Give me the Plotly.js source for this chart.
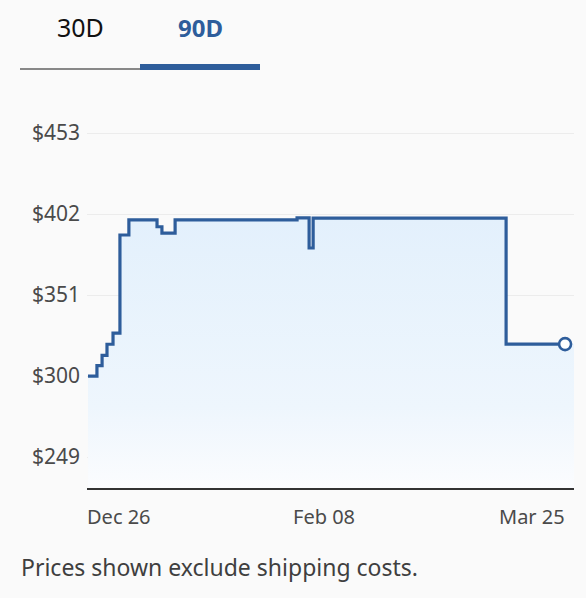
<!DOCTYPE html>
<html>
<head>
<meta charset="utf-8">
<script src="https://cdn.plot.ly/plotly-3.0.1.min.js"></script>
<style>
  html, body { margin: 0; padding: 0; background: #fafafa; }
  #chart { width: 586px; height: 598px; }
</style>
</head>
<body>
<div id="chart"></div>
<script>
// ---- data ----
const dates = [
  '2024-12-26 00:00', '2024-12-27 16:00', '2024-12-28 15:00', '2024-12-29 13:00',
  '2024-12-30 16:00', '2024-12-31 23:00', '2025-01-02 15:00', '2025-01-07 21:00',
  '2025-01-08 19:00', '2025-01-11 06:00', '2025-02-03 00:00', '2025-02-05 06:00',
  '2025-02-06 00:00', '2025-03-14 00:00', '2025-03-25 00:00'
];
const prices = [
  300, 306.5, 313, 320, 327, 388.8, 398.3, 394, 390, 398.3, 399.6, 380.6,
  399.4, 320.1, 320.1
];
const yTickVals = [249, 300, 351, 402, 453];
const yTickText = ['$249', '$300', '$351', '$402', '$453'];
const xTickVals = ['2024-12-26', '2025-02-08', '2025-03-25'];
const xTickText = ['Dec 26', 'Feb 08', 'Mar 25'];
const xTickAnchor = ['left', 'center', 'right'];
const tabLabels = ['30D', '90D'];
const footerText = 'Prices shown exclude shipping costs.';

// ---- layout helpers ----
const W = 586, H = 598;
const L = 87, R = 12, T = 110, B = 110;
const pw = W - L - R, ph = H - T - B;
const px = x => (x - L) / pw;        // pixel -> paper x
const py = y => (H - B - y) / ph;    // pixel -> paper y

const xRange = ['2024-12-25 19:30', '2025-03-26 16:00'];
const yRange = [229.5, 467.5];

const lineColor = '#2e5d9b';
const font = 'Noto Sans, sans-serif';

const fillX = dates.concat([xRange[1]]);
const fillY = prices.concat([prices[prices.length - 1]]);

const traces = [
  {
    type: 'scatter', mode: 'none', x: fillX, y: fillY,
    line: { shape: 'hv' }, fill: 'tozeroy',
    fillgradient: {
      type: 'vertical', start: 229.5, stop: 399,
      colorscale: [[0, '#fbfcfe'], [0.3, '#eef6fd'], [1, '#e3f0fc']]
    },
    hoverinfo: 'skip', showlegend: false
  },
  {
    type: 'scatter', mode: 'lines', x: dates, y: prices,
    line: { shape: 'hv', color: lineColor, width: 3.2 },
    showlegend: false
  },
  {
    type: 'scatter', mode: 'markers',
    x: [dates[dates.length - 1]], y: [prices[prices.length - 1]],
    marker: { size: 12, color: '#ffffff', line: { color: lineColor, width: 2.6 } },
    showlegend: false, cliponaxis: false
  }
];

const annotations = [];
const xShift = [-3, 0, 2];
xTickVals.forEach((v, i) => {
  annotations.push({
    x: v, xref: 'x', y: py(516), yref: 'paper',
    text: xTickText[i], showarrow: false, xshift: xShift[i],
    xanchor: xTickAnchor[i], yanchor: 'middle',
    font: { family: font, size: 20, color: '#4a4a4a' }
  });
});
annotations.push({
  x: px(80), y: py(27), xref: 'paper', yref: 'paper',
  text: tabLabels[0], showarrow: false, xanchor: 'center', yanchor: 'middle',
  font: { family: font, size: 25, color: '#111111' }
});
annotations.push({
  x: px(200), y: py(27), xref: 'paper', yref: 'paper',
  text: '<b>' + tabLabels[1] + '</b>', showarrow: false, xanchor: 'center', yanchor: 'middle',
  font: { family: font, size: 24, color: '#2e5d9b' }
});
annotations.push({
  x: px(19), y: py(567), xref: 'paper', yref: 'paper',
  text: footerText, showarrow: false, xanchor: 'left', yanchor: 'middle',
  font: { family: font, size: 23, color: '#3f3f3f' }
});

const shapes = [
  { type: 'line', xref: 'paper', yref: 'paper', x0: px(20), x1: px(140), y0: py(69), y1: py(69),
    line: { color: '#888888', width: 2 } },
  { type: 'rect', xref: 'paper', yref: 'paper', x0: px(140), x1: px(260), y0: py(70), y1: py(64),
    fillcolor: '#2e5d9b', line: { width: 0 } }
];

const layout = {
  width: W, height: H,
  margin: { l: L, r: R, t: T, b: B, pad: 0 },
  paper_bgcolor: '#fafafa', plot_bgcolor: '#fafafa',
  showlegend: false,
  xaxis: {
    type: 'date', range: xRange, showgrid: false, zeroline: false,
    showticklabels: false, ticks: '', fixedrange: true,
    showline: true, linecolor: '#333333', linewidth: 1.5
  },
  yaxis: {
    range: yRange, tickvals: yTickVals, ticktext: yTickText,
    showgrid: true, gridcolor: '#ececec', gridwidth: 1, zeroline: false,
    showline: false, ticks: '', ticklabelstandoff: 6,
    tickfont: { family: font, size: 21, color: '#4a4a4a' },
    fixedrange: true
  },
  annotations: annotations,
  shapes: shapes
};

Plotly.newPlot('chart', traces, layout, { displayModeBar: false, staticPlot: true });
</script>
</body>
</html>
